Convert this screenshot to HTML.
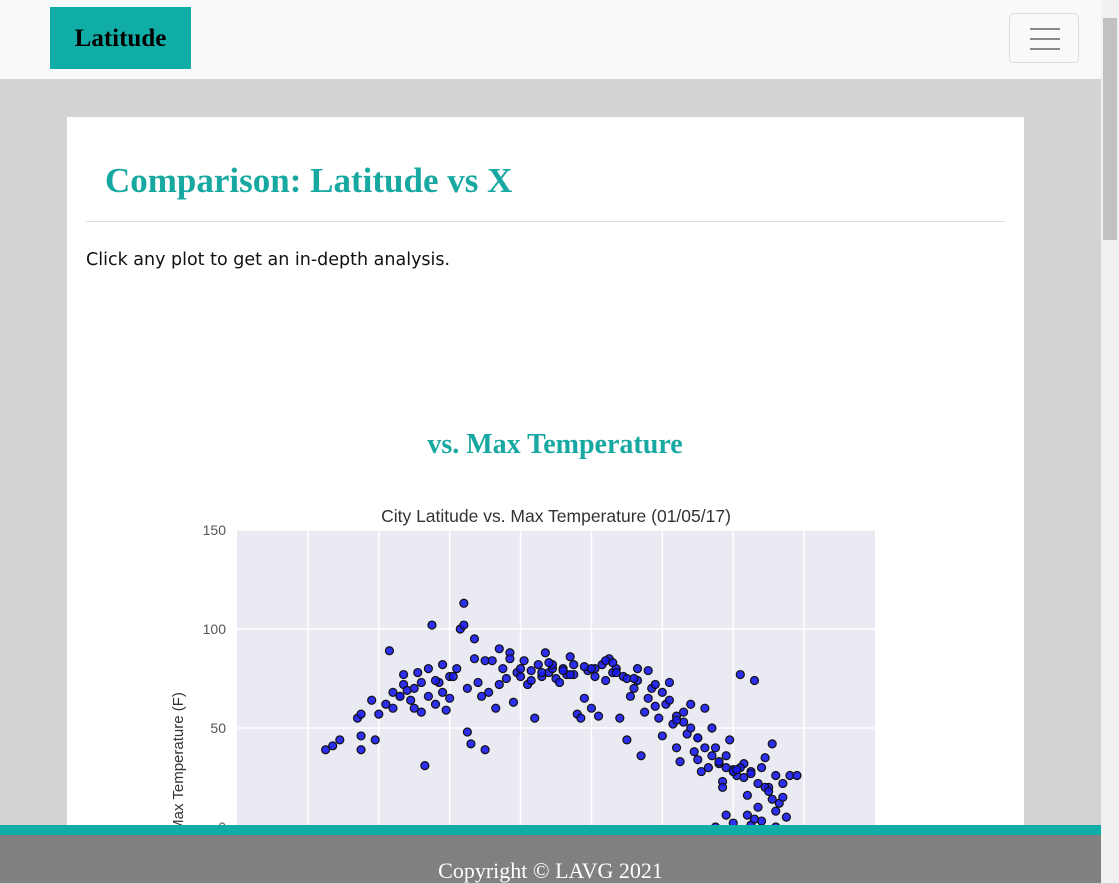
<!DOCTYPE html>
<html><head><meta charset="utf-8">
<style>
*{margin:0;padding:0;box-sizing:border-box}
body{width:1119px;height:883px;overflow:hidden;background:#d3d3d3;position:relative;font-family:"Liberation Sans",sans-serif}
.nav{position:absolute;left:0;top:0;width:1101px;height:79px;background:#f8f9fa}
.brand{position:absolute;left:50px;top:7px;width:141px;height:62px;background:#0fada6;font:bold 25px "Liberation Serif",serif;color:#000;text-align:center;line-height:64px}
.tog{position:absolute;left:1009px;top:13px;width:70px;height:50px;border:1px solid #ddd;border-radius:5px}
.tog i{position:absolute;left:20px;width:30px;height:2px;background:#888}
.card{position:absolute;left:67px;top:117px;width:957px;height:720px;background:#fff}
h1{position:absolute;left:105px;top:161px;font:bold 35px "Liberation Serif",serif;color:#17a8a2}
.hr{position:absolute;left:86px;top:221px;width:919px;height:1px;background:#ddd}
.p{position:absolute;left:86px;top:250px;font:17.5px "DejaVu Sans",sans-serif;color:#111}
h2{position:absolute;left:0;width:1110px;text-align:center;top:429px;font:bold 28px "Liberation Serif",serif;color:#17a8a2}
.foot1{position:absolute;left:0;top:825px;width:1101px;height:10px;background:#0fada6}
.foot2{position:absolute;left:0;top:835px;width:1101px;height:48px;background:#808080;color:#fff;font:22px "Liberation Serif",serif;text-align:center;padding-top:23px}
.sb{position:absolute;left:1101px;top:0;width:18px;height:883px;background:#f1f1f1}
.sb i{position:absolute;left:2px;top:18px;width:14px;height:222px;background:#c1c1c1}
</style></head><body>
<div class="nav">
<div class="brand">Latitude</div>
<div class="tog"><i style="top:14px"></i><i style="top:24px"></i><i style="top:34px"></i></div>
</div>
<div class="card"></div>
<h1>Comparison: Latitude vs X</h1>
<div class="hr"></div>
<div class="p">Click any plot to get an in-depth analysis.</div>
<h2>vs. Max Temperature</h2>
<svg id="chart" style="position:absolute;left:0;top:0" width="1101" height="883"></svg>
<div class="foot1"></div>
<div class="foot2">Copyright © LAVG 2021</div>
<div class="sb"><i></i></div>
<script>
const yTicks=[0,50,100,150];
const xTicks=[-60,-40,-20,0,20,40,60,80];
const lats=[-55,-53,-51,-46,-45,-45,-45,-42,-41,-40,-37,-38,-36,-36,-34,-33,-33,-32,-31,-30,-29,-28,-27,-26,-26,-24,-23,-22,-22,-21,-20,-20,-25,-17,-16,-16,-15,-14,-13,-13,-12,-11,-10,-10,-8,-7,-6,-5,-4,-3,-2,-1,0,1,2,3,4,5,6,7,8,9,10,11,12,13,14,15,16,17,18,19,20,21,22,23,24,25,26,27,28,29,30,31,32,33,34,35,36,37,38,39,40,41,42,43,44,45,46,47,48,49,50,51,52,53,54,55,56,57,58,59,60,61,62,63,64,65,66,67,68,69,70,71,72,73,74,75,76,78,55,60,65,68,72,64,58,-18,-19,-15,-9,-6,-3,0,3,6,9,12,15,18,21,24,27,30,33,36,38,40,42,44,46,48,50,52,54,56,58,60,62,63,65,67,69,70,72,74,-30,-34,-28,-24,8,14,20,26,32,44,50,57,61,66,71];
const temps=[39,41,44,55,57,46,39,64,44,57,89,62,60,68,66,72,77,69,64,60,78,73,31,80,66,62,73,68,82,59,76,65,102,100,113,102,48,42,95,85,73,66,39,84,84,60,90,80,75,88,63,78,76,84,72,79,55,82,76,88,78,80,75,73,80,77,86,82,57,55,65,79,60,80,56,82,74,85,78,80,55,76,44,66,70,74,36,58,65,70,61,55,46,62,73,52,40,33,58,47,62,38,45,28,60,30,50,40,32,23,36,44,29,26,77,32,16,28,74,10,30,35,20,42,26,12,22,5,26,26,0,2,1,3,0,6,6,80,76,70,68,72,85,80,74,78,82,79,77,81,76,84,78,75,80,79,72,68,64,56,53,50,45,40,36,33,30,28,30,25,27,22,20,18,8,15,70,66,58,74,83,77,80,83,75,54,34,20,29,4,14];
const svg=document.getElementById('chart');const NS='http://www.w3.org/2000/svg';
const X0=237,X1=875,Y0=827,Y1=530;
const xs=v=>X0+(v+80)/180*(X1-X0);
const ys=v=>Y0-v/150*(Y0-Y1);
function mk(t,a){const e=document.createElementNS(NS,t);for(const k in a)e.setAttribute(k,a[k]);svg.appendChild(e);return e;}
let bg=mk('rect',{x:X0,y:Y1,width:X1-X0,height:Y0-Y1,fill:'#eaeaf2'});


xTicks.forEach(v=>{const l=mk('line',{x1:xs(v),x2:xs(v),y1:Y1,y2:Y0,stroke:'#fff','stroke-width':1.5});

});
yTicks.forEach(v=>{const l=mk('line',{x1:X0,x2:X1,y1:ys(v),y2:ys(v),stroke:'#fff','stroke-width':1.5});


const t=mk('text',{x:226,y:ys(v)+5,'text-anchor':'end','font-size':14,fill:'#555','font-family':'Liberation Sans, sans-serif'});t.textContent=v;

});
lats.forEach((la,i)=>{const c=mk('circle',{cx:xs(la),cy:ys(temps[i]),r:4,fill:'#1a1aee',stroke:'#111','stroke-width':1.2,'fill-opacity':0.9});

});
const tt=mk('text',{x:556,y:522,'text-anchor':'middle','font-size':17.5,fill:'#333','font-family':'Liberation Sans, sans-serif'});tt.textContent='City Latitude vs. Max Temperature (01/05/17)';


const yl=mk('text',{x:0,y:0,transform:'translate(183,762) rotate(-90)','text-anchor':'middle','font-size':15,fill:'#333','font-family':'Liberation Sans, sans-serif'});yl.textContent='Max Temperature (F)';


</script>
</body></html>
